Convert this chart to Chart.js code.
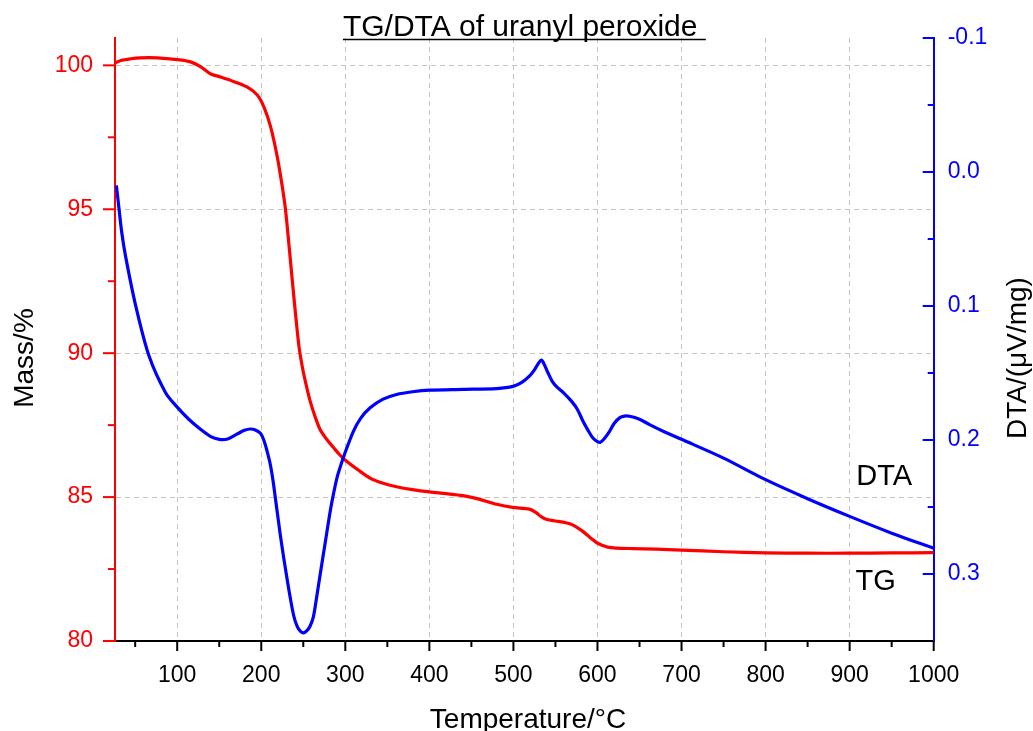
<!DOCTYPE html>
<html>
<head>
<meta charset="utf-8">
<title>TG/DTA of uranyl peroxide</title>
<script src="https://cdn.jsdelivr.net/npm/chart.js@4.4.1/dist/chart.umd.min.js"></script>
<style>
  html, body { margin: 0; padding: 0; background: #fff; }
  #chart-wrap { width: 1033px; height: 731px; }
</style>
</head>
<body>
<div id="chart-wrap"><canvas id="tg-dta-chart" width="1033" height="731"></canvas></div>
<script>
// TG curve (mass loss)
const tgTemperature = [26, 33, 45, 56, 76, 100, 116, 128, 134, 140, 151, 167, 183, 195, 203, 211, 219, 225, 229, 233, 237, 241, 245, 249, 253, 258, 264, 270, 278, 286, 293, 300, 315, 330, 345, 361, 380, 400, 420, 440, 460, 480, 499, 519, 527, 533, 540, 550, 559, 567, 575, 583, 591, 600, 606, 612, 622, 642, 670, 700, 750, 800, 850, 900, 950, 1000];
const tgMass = [100.08, 100.17, 100.23, 100.26, 100.26, 100.2, 100.12, 99.95, 99.82, 99.7, 99.6, 99.44, 99.25, 98.98, 98.57, 97.88, 96.83, 95.79, 94.95, 93.75, 92.5, 91.3, 90.2, 89.5, 88.95, 88.35, 87.8, 87.35, 87.0, 86.72, 86.48, 86.28, 85.95, 85.65, 85.48, 85.36, 85.26, 85.18, 85.12, 85.05, 84.92, 84.75, 84.64, 84.58, 84.46, 84.32, 84.22, 84.17, 84.13, 84.07, 83.96, 83.8, 83.6, 83.4, 83.32, 83.26, 83.23, 83.21, 83.19, 83.16, 83.1, 83.06, 83.05, 83.05, 83.06, 83.07];

// DTA curve
const dtaTemperature = [27.6, 30.7, 34, 38.6, 50.5, 66.3, 86, 100, 113.8, 127.7, 140, 150, 160, 170, 180, 187, 193, 199, 203, 207, 211, 214.7, 222.6, 230.6, 238.4, 243, 247, 250.3, 254, 258, 262, 266, 270, 276, 282, 286, 290, 293, 300, 309.6, 318, 329.5, 345, 361, 380, 400, 440, 480, 499.6, 510, 519.6, 525.4, 530, 533.3, 537, 541.2, 546, 551, 560, 569, 576, 582.8, 589, 594.6, 600, 603.4, 608, 614.4, 620, 626.3, 632, 638.2, 650, 662, 680, 700, 750, 800, 850, 900, 950, 1000];
const dtaSignal = [0.010, 0.027, 0.045, 0.063, 0.0995, 0.137, 0.1645, 0.1755, 0.1845, 0.192, 0.1975, 0.1995, 0.1992, 0.196, 0.1928, 0.1918, 0.1925, 0.195, 0.2, 0.2085, 0.219, 0.2334, 0.2706, 0.3032, 0.3306, 0.3395, 0.343, 0.3439, 0.3425, 0.339, 0.332, 0.317, 0.3007, 0.277, 0.2533, 0.24, 0.2284, 0.222, 0.209, 0.1935, 0.184, 0.176, 0.1695, 0.166, 0.164, 0.1628, 0.1622, 0.1616, 0.16, 0.157, 0.152, 0.1473, 0.1425, 0.1404, 0.144, 0.15, 0.156, 0.16, 0.165, 0.171, 0.177, 0.186, 0.193, 0.1985, 0.2012, 0.2017, 0.199, 0.1935, 0.1875, 0.1835, 0.1822, 0.1823, 0.1845, 0.1885, 0.194, 0.1995, 0.2135, 0.2296, 0.2438, 0.257, 0.2695, 0.2808];

// axis ticks
const temperatureTicks = [100, 200, 300, 400, 500, 600, 700, 800, 900, 1000];
const temperatureMinorTicks = [50, 150, 250, 350, 450, 550, 650, 750, 850, 950];
const massTicks = [80, 85, 90, 95, 100];
const massMinorTicks = [82.5, 87.5, 92.5, 97.5];
const dtaTicks = [-0.1, 0, 0.1, 0.2, 0.3];
const dtaMinorTicks = [-0.05, 0.05, 0.15, 0.25];

const chartTitle = "TG/DTA of uranyl peroxide ";
const xTitle = "Temperature/°C";
const massTitle = "Mass/%";
const dtaTitle = "DTA/(μV/mg)";

const FONT = '"Liberation Sans", Arial, sans-serif';
const GRID_COLOR = "#c4c4c4";

function toPoints(xs, ys) {
  return xs.map((x, i) => ({ x, y: ys[i] }));
}

function fixedTicks(values) {
  return (scale) => {
    scale.ticks = values.map((value) => ({ value }));
  };
}

function yTickMarks(ctx, scale, values, x0, len) {
  values.forEach((v) => {
    const y = scale.getPixelForValue(v);
    ctx.beginPath();
    ctx.moveTo(x0, y);
    ctx.lineTo(x0 + len, y);
    ctx.stroke();
  });
}

function xTickMarks(ctx, scale, values, y0, len) {
  values.forEach((v) => {
    const x = scale.getPixelForValue(v);
    ctx.beginPath();
    ctx.moveTo(x, y0);
    ctx.lineTo(x, y0 + len);
    ctx.stroke();
  });
}

const decorations = {
  id: "decorations",
  afterDraw(chart) {
    const { ctx, chartArea } = chart;
    const x = chart.scales.x;
    const mass = chart.scales.mass;
    const dta = chart.scales.dta;

    ctx.save();
    ctx.lineWidth = 2;
    ctx.lineCap = "butt";

    // bottom ticks, outward
    ctx.strokeStyle = "#000";
    xTickMarks(ctx, x, temperatureTicks, chartArea.bottom, 10);
    xTickMarks(ctx, x, temperatureMinorTicks, chartArea.bottom, 6);

    // left ticks, outward
    ctx.strokeStyle = "#ff0000";
    yTickMarks(ctx, mass, massTicks, chartArea.left, -12);
    yTickMarks(ctx, mass, massMinorTicks, chartArea.left, -7);

    // right ticks, inward
    ctx.strokeStyle = "#0000ff";
    yTickMarks(ctx, dta, dtaTicks, chartArea.right, -11);
    yTickMarks(ctx, dta, dtaMinorTicks, chartArea.right, -6);

    // title, underlined
    ctx.fillStyle = "#000";
    ctx.font = `30px ${FONT}`;
    ctx.textAlign = "left";
    ctx.textBaseline = "alphabetic";
    const titleWidth = ctx.measureText(chartTitle).width;
    const titleLeft = (chartArea.left + chartArea.right) / 2 - titleWidth / 2;
    ctx.fillText(chartTitle, titleLeft, 36);
    ctx.lineWidth = 1.5;
    ctx.strokeStyle = "#000";
    ctx.beginPath();
    ctx.moveTo(titleLeft, 39.5);
    ctx.lineTo(titleLeft + titleWidth, 39.5);
    ctx.stroke();

    // axis titles
    ctx.font = `28px ${FONT}`;
    ctx.textAlign = "center";
    ctx.fillText(xTitle, 528, 728);

    ctx.save();
    ctx.translate(33, 358);
    ctx.rotate(-Math.PI / 2);
    ctx.fillText(massTitle, 0, 0);
    ctx.restore();

    ctx.save();
    ctx.translate(1026, 358);
    ctx.rotate(-Math.PI / 2);
    ctx.fillText(dtaTitle, 0, 0);
    ctx.restore();

    // curve labels
    ctx.font = `29px ${FONT}`;
    ctx.textAlign = "left";
    ctx.fillText("DTA", x.getPixelForValue(908), mass.getPixelForValue(85.42));
    ctx.fillText("TG", x.getPixelForValue(907), mass.getPixelForValue(81.76));

    ctx.restore();
  },
};

new Chart(document.getElementById("tg-dta-chart"), {
  type: "line",
  data: {
    datasets: [
      {
        label: "DTA",
        data: toPoints(dtaTemperature, dtaSignal),
        yAxisID: "dta",
        borderColor: "#0000ff",
        borderWidth: 3.2,
        pointRadius: 0,
        tension: 0.3,
      },
      {
        label: "TG",
        data: toPoints(tgTemperature, tgMass),
        yAxisID: "mass",
        borderColor: "#ff0000",
        borderWidth: 3.2,
        pointRadius: 0,
        tension: 0.3,
      },
    ],
  },
  options: {
    responsive: false,
    animation: false,
    layout: { padding: { top: 38, left: 0, right: 0, bottom: 0 } },
    plugins: {
      legend: { display: false },
      tooltip: { enabled: false },
      title: { display: false },
    },
    scales: {
      x: {
        type: "linear",
        position: "bottom",
        min: 26,
        max: 1000,
        afterBuildTicks: fixedTicks(temperatureTicks),
        afterFit: (scale) => { scale.height = 90; },
        ticks: {
          color: "#000",
          font: { family: FONT, size: 23 },
          padding: 21,
          maxRotation: 0,
          autoSkip: false,
          callback: (value) => String(value),
        },
        grid: { color: GRID_COLOR, lineWidth: 1, drawTicks: false },
        border: { color: "#000", width: 2, dash: [5, 4] },
      },
      mass: {
        type: "linear",
        position: "left",
        min: 80,
        max: 100.95,
        afterBuildTicks: fixedTicks(massTicks),
        afterFit: (scale) => { scale.width = 115; },
        ticks: {
          color: "#ff0000",
          font: { family: FONT, size: 23 },
          padding: 22,
          callback: (value) => String(value),
        },
        grid: { color: GRID_COLOR, lineWidth: 1, drawTicks: false },
        border: { color: "#ff0000", width: 2, dash: [5, 4] },
      },
      dta: {
        type: "linear",
        position: "right",
        reverse: true,
        min: -0.1,
        max: 0.35,
        afterBuildTicks: fixedTicks(dtaTicks),
        afterFit: (scale) => { scale.width = 99.3; },
        ticks: {
          color: "#0000ff",
          font: { family: FONT, size: 23 },
          padding: 14,
          callback: (value) => value.toFixed(1),
        },
        grid: { display: false, drawTicks: false },
        border: { color: "#0000ff", width: 2 },
      },
    },
  },
  plugins: [decorations],
});
</script>
</body>
</html>
